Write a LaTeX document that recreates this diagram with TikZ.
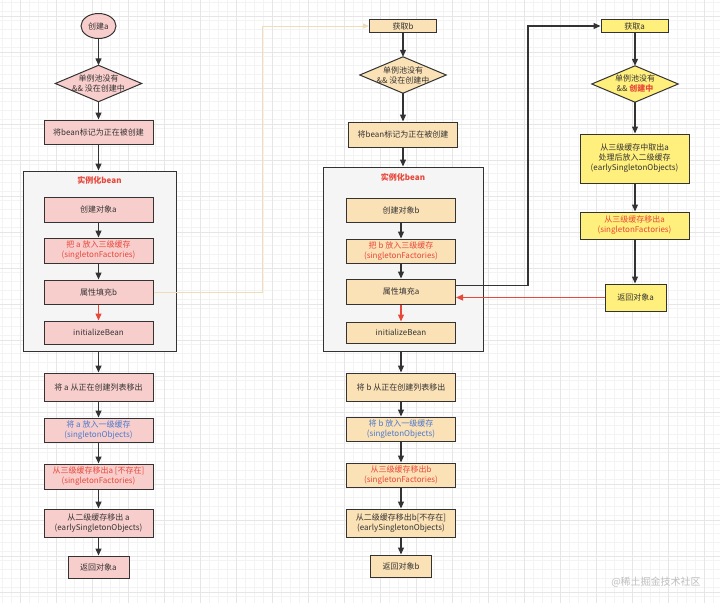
\documentclass[tikz,border=0pt]{standalone}
\usepackage{fontspec}
\setmainfont{Noto Sans CJK SC}
\usetikzlibrary{arrows.meta,shapes.geometric,calc}
\definecolor{pinkf}{HTML}{F8CECC}
\definecolor{orangef}{HTML}{FBE1B6}
\definecolor{yellowf}{HTML}{FFEF7C}
\definecolor{contf}{HTML}{F5F5F5}
\definecolor{lineC}{HTML}{333333}
\definecolor{txt}{HTML}{333333}
\definecolor{redT}{HTML}{E8473A}
\definecolor{blueT}{HTML}{4A78CC}
\definecolor{lightL}{HTML}{F0DDB6}
\definecolor{gridMinor}{HTML}{F3F3F3}
\definecolor{gridMajor}{HTML}{E6E6E6}
\tikzset{
  box/.style={draw=lineC, line width=1pt, inner sep=0pt, align=center, text=txt},
  pbox/.style={box, fill=pinkf, minimum width=109pt, minimum height=25pt},
  obox/.style={box, fill=orangef, minimum width=109pt, minimum height=25pt},
  ybox/.style={box, fill=yellowf, minimum width=109pt, minimum height=25pt},
  cont/.style={draw=lineC, line width=1pt, fill=contf, inner sep=0pt},
  dia/.style={inner sep=0pt, align=center, text=txt, minimum width=86pt, minimum height=36pt},
  arr/.style={draw=lineC, line width=1.2pt, -{Triangle[length=7pt,width=6pt]}},
  rarr/.style={draw=redT, line width=1.2pt, -{Triangle[length=7pt,width=6pt]}},
  larr/.style={draw=lightL, line width=1pt, -{Triangle[length=6pt,width=5pt]}},
  title/.style={text=redT, font=\fontsize{8}{10}\selectfont\bfseries},
}
\begin{document}
\begin{tikzpicture}[x=1pt,y=-1pt, font=\fontsize{8}{10}\selectfont]
\useasboundingbox (0,0) rectangle (720,603);
\fill[white] (0,0) rectangle (720,603);
% grid
\foreach \i in {0,...,80} { \draw[gridMinor, line width=0.5pt] (\i*9+2,0) -- (\i*9+2,603); }
\foreach \i in {0,...,67} { \draw[gridMinor, line width=0.5pt] (0,\i*9+2) -- (720,\i*9+2); }
\foreach \i in {0,...,20} { \draw[gridMajor, line width=0.6pt] (\i*36+20,0) -- (\i*36+20,603); }
\foreach \i in {0,...,17} { \draw[gridMajor, line width=0.6pt] (0,\i*36+16) -- (720,\i*36+16); }

% ---------- column a (pink) ----------
\node[box, fill=pinkf, ellipse, minimum width=35pt, minimum height=25pt] (a0) at (98.5,26) {创建a};
\node[dia] (a1) at (98.5,83.5) {};
\draw[lineC, line width=1pt, fill=pinkf] (a1.north) -- (a1.east) -- (a1.south) -- (a1.west) -- cycle;
\node[dia] at (a1) {单例池没有\\\&\& 没在创建中};
\node[pbox, minimum height=24pt] (a2) at (98.5,132) {将bean标记为正在被创建};
\node[cont, minimum width=153pt, minimum height=180pt] (ca) at (99.5,261) {};
\node[title] (ta) at (99.5,180) {实例化bean};
\node[pbox] (a3) at (98.5,209.5) {创建对象a};
\node[pbox, text=redT] (a4) at (98.5,250.5) {把 a 放入三级缓存\\(singletonFactories)};
\node[pbox, minimum height=24pt] (a5) at (98.5,292) {属性填充b};
\node[pbox, minimum height=23pt] (a6) at (98.5,332.5) {initializeBean};
\node[pbox, minimum height=28pt] (a7) at (98.5,387) {将 a 从正在创建列表移出};
\node[pbox, minimum height=24pt, text=blueT] (a8) at (98.5,430) {将 a 放入一级缓存\\(singletonObjects)};
\node[pbox, text=redT] (a9) at (98.5,476.5) {从三级缓存移出a [不存在]\\(singletonFactories)};
\node[pbox, minimum height=28pt] (a10) at (98.5,523) {从二级缓存移出 a\\(earlySingletonObjects)};
\node[pbox, minimum width=61pt, minimum height=22pt] (a11) at (98.5,567) {返回对象a};

\draw[arr] (a0) -- (a1.north);
\draw[arr] (a1.south) -- (a2.north);
\draw[arr] (a2.south) -- (ca.north -| a2);
\draw[arr] (a3) -- (a4);
\draw[arr] (a4) -- (a5);
\draw[rarr] (a5) -- (a6);
\draw[arr] (ca.south -| a7) -- (a7.north);
\draw[arr] (a7) -- (a8);
\draw[arr] (a8) -- (a9);
\draw[arr] (a9) -- (a10);
\draw[arr] (a10) -- (a11);

% ---------- column b (orange) ----------
\node[box, fill=orangef, minimum width=67pt, minimum height=13pt] (b0) at (403,26) {获取b};
\node[dia] (b1) at (403,75) {};
\draw[lineC, line width=1pt, fill=orangef] (b1.north) -- (b1.east) -- (b1.south) -- (b1.west) -- cycle;
\node[dia] at (b1) {单例池没有\\\&\& 没在创建中};
\node[obox] (b2) at (403,134.5) {将bean标记为正在被创建};
\node[cont, minimum width=160pt, minimum height=184pt] (cb) at (403,259) {};
\node[title] (tb) at (403,177) {实例化bean};
\node[obox, minimum height=24pt] (b3) at (401,210) {创建对象b};
\node[obox, minimum height=24pt, text=redT] (b4) at (401,251) {把 b 放入三级缓存\\(singletonFactories)};
\node[obox] (b5) at (401,291.5) {属性填充a};
\node[obox, minimum height=21pt] (b6) at (401,332.5) {initializeBean};
\node[obox, minimum height=28pt] (b7) at (401,387) {将 b 从正在创建列表移出};
\node[obox, minimum height=24pt, text=blueT] (b8) at (401,429) {将 b 放入一级缓存\\(singletonObjects)};
\node[obox, minimum height=24pt, text=redT] (b9) at (401,475) {从三级缓存移出b\\(singletonFactories)};
\node[obox, minimum height=28pt] (b10) at (401,523) {从二级缓存移出b[不存在]\\(earlySingletonObjects)};
\node[obox, minimum width=61pt, minimum height=22pt] (b11) at (401,566) {返回对象b};

\draw[arr] (b0) -- (b1.north);
\draw[arr] (b1.south) -- (b2.north);
\draw[arr] (b2.south) -- (cb.north -| b2);
\draw[arr] (b3) -- (b4);
\draw[arr] (b4) -- (b5);
\draw[rarr] (b5) -- (b6);
\draw[arr] (cb.south -| b7) -- (b7.north);
\draw[arr] (b7) -- (b8);
\draw[arr] (b8) -- (b9);
\draw[arr] (b9) -- (b10);
\draw[arr] (b10) -- (b11);

% ---------- column c (yellow) ----------
\node[box, fill=yellowf, minimum width=67pt, minimum height=13pt] (c0) at (634.5,26) {获取a};
\node[dia] (c1) at (635,84) {};
\draw[lineC, line width=1pt, fill=yellowf] (c1.north) -- (c1.east) -- (c1.south) -- (c1.west) -- cycle;
\node[dia] at (c1) {单例池没有\\\&\& {\color{redT}\bfseries 创建中}};
\node[ybox, minimum height=49pt] (c2) at (634.5,158.5) {从三级缓存中取出a\\处理后放入二级缓存\\(earlySingletonObjects)};
\node[ybox, minimum height=27pt, text=redT] (c3) at (634.5,225.5) {从三级缓存移出a\\(singletonFactories)};
\node[ybox, minimum width=61pt, minimum height=27pt] (c4) at (635.5,297.5) {返回对象a};

\draw[arr] (c0.south -| c1) -- (c1.north);
\draw[arr] (c1.south) -- (c2.north -| c1);
\draw[arr] (c2.south -| c1) -- (c3.north -| c1);
\draw[arr] (c3.south -| c1) -- (c4.north -| c1);

% ---------- cross connectors ----------
\coordinate (ja) at (262,26);
\draw[larr] (a5.east) -| (ja) -- (b0.west);
\coordinate (jb) at (528,26);
\draw[arr] ([yshift=6pt]b5.east) -| (jb) -- (c0.west);
\draw[rarr] (c4.west) -- ([yshift=-6pt]b5.east);

% watermark
\node[text=black!25, font=\fontsize{10}{12}\selectfont] (wm) at (656,582) {@稀土掘金技术社区};
\end{tikzpicture}
\end{document}
